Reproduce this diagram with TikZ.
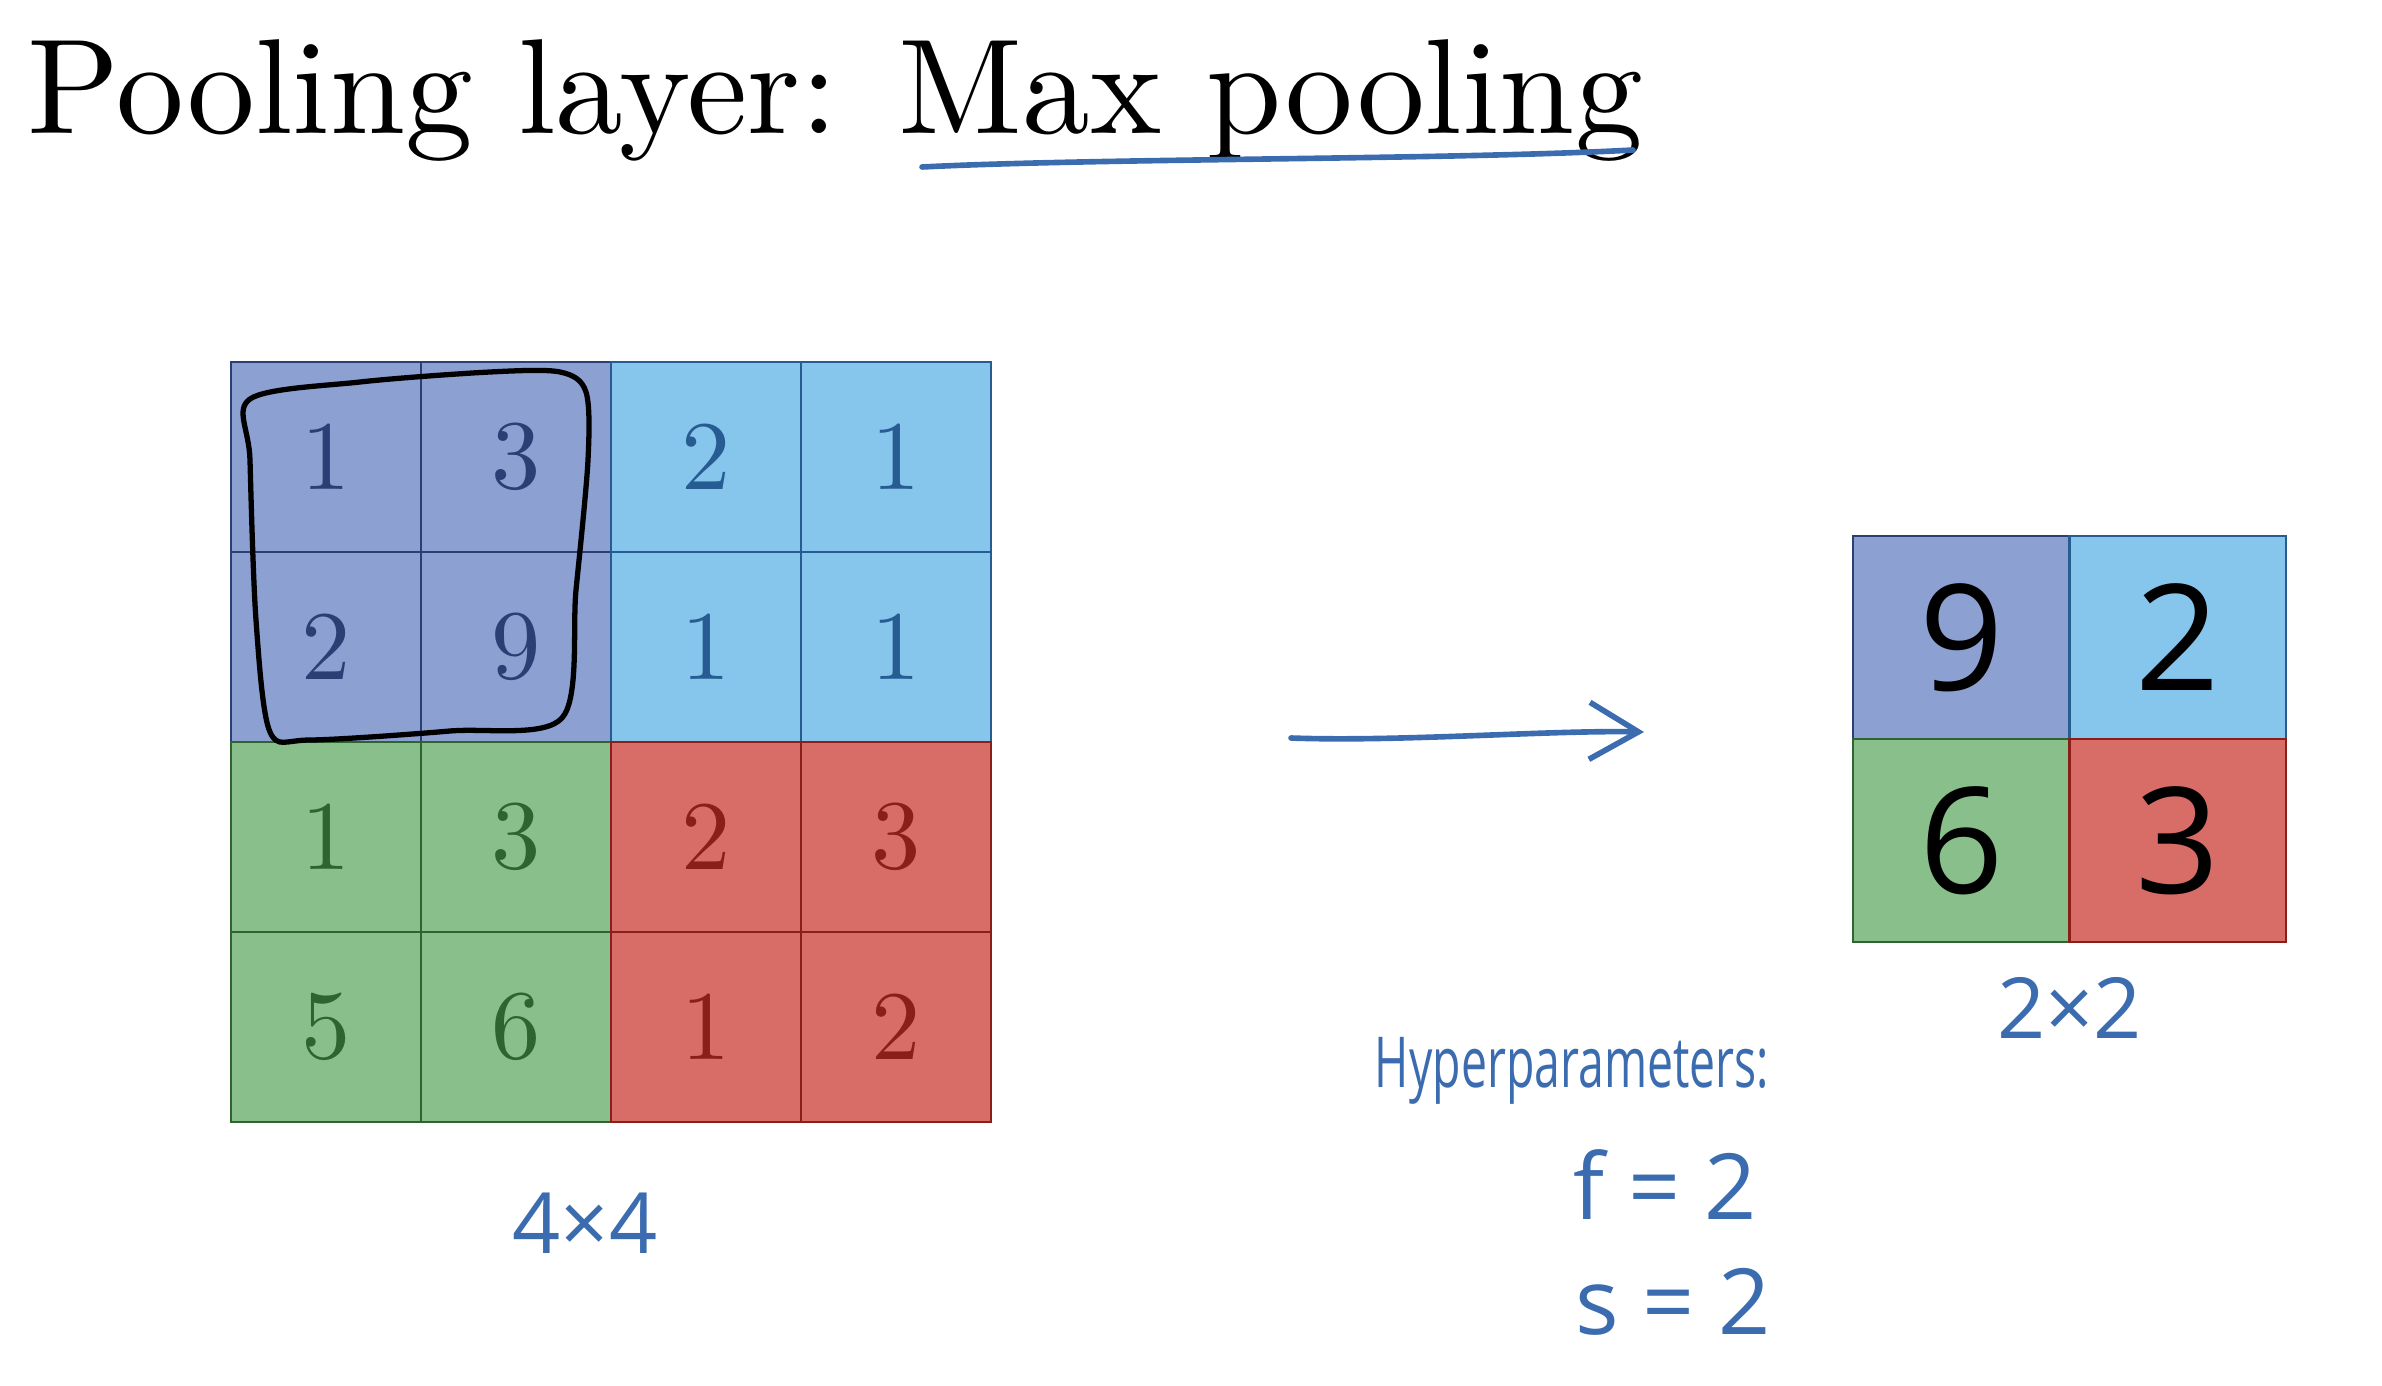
\documentclass[tikz,border=0pt]{standalone}
\usepackage{fontspec}
\newfontfamily\handfont{Open Sans}
\newfontfamily\romanten{lmroman10-regular.otf}
\usetikzlibrary{arrows.meta, positioning}
\definecolor{xPurple}{RGB}{140,160,210}
\definecolor{xSky}{RGB}{134,197,236}
\definecolor{xGreen}{RGB}{136,191,138}
\definecolor{xRed}{RGB}{216,108,102}
\definecolor{dPurple}{RGB}{44,63,117}
\definecolor{dSky}{RGB}{38,92,145}
\definecolor{dGreen}{RGB}{46,100,46}
\definecolor{dRed}{RGB}{140,30,26}
\definecolor{xInk}{RGB}{60,108,176}
\tikzset{
  bigcell/.style={draw, minimum width=1.9cm, minimum height=1.9cm, inner sep=0pt, outer sep=0pt,
                  line width=0.6pt, font=\romanten\fontsize{28}{28}\selectfont},
  smallcell/.style={draw, minimum width=2.165cm, minimum height=2.03cm, inner sep=0pt, outer sep=0pt,
                  line width=0.6pt, font=\handfont\fontsize{42}{42}\selectfont},
  hand/.style={text=xInk, font=\handfont\fontsize{24}{24}\selectfont, inner sep=0pt},
  pen/.style={xInk, line width=1.6pt, line cap=round, line join=round},
  circler/.style={black, line width=1.5pt, line cap=round, line join=round},
}

\begin{document}
\begin{tikzpicture}
    \useasboundingbox (0,0) rectangle (23.82,-13.86);
    \node[anchor=base west, inner sep=0pt, font=\romanten\fontsize{38.5}{38.5}\selectfont] (title) at (0.27,-1.34) {Pooling layer: Max pooling};
    \coordinate (uL) at (9.22,-1.67);
    \coordinate (uR) at (16.33,-1.50);
    \draw[pen] (uL) .. controls (11.0,-1.58) and (14.5,-1.60) .. (uR);
    % 4x4 input
    \foreach \r/\c/\v/\fc in {0/0/1/Purple, 0/1/3/Purple, 0/2/2/Sky, 0/3/1/Sky,
                              1/0/2/Purple, 1/1/9/Purple, 1/2/1/Sky, 1/3/1/Sky,
                              2/0/1/Green, 2/1/3/Green, 2/2/2/Red, 2/3/3/Red,
                              3/0/5/Green, 3/1/6/Green, 3/2/1/Red, 3/3/2/Red}
      \node[bigcell, fill=x\fc, draw=d\fc, text=d\fc] (b\r\c) at ({3.26+1.9*\c},{-4.57-1.9*\r}) {\v};
    \draw[circler] plot[smooth cycle, tension=0.5] coordinates {(2.50,-3.99) (3.6,-3.82) (4.9,-3.72) (5.60,-3.72)
        (5.86,-3.92) (5.88,-4.60) (5.76,-5.90) (5.62,-7.18) (4.5,-7.31) (3.1,-7.40) (2.70,-7.32) (2.56,-6.2) (2.50,-4.6)};
    \node[hand] (dimA) at (5.85,-12.23) {4×4};
    % 2x2 output
    \foreach \r/\c/\v/\fc in {0/0/9/Purple, 0/1/2/Sky, 1/0/6/Green, 1/1/3/Red}
      \node[smallcell, fill=x\fc, draw=d\fc] (s\r\c) at ({19.6125+2.165*\c},{-6.375-2.03*\r}) {\v};
    \node[hand, below=3.5mm of s10.south east] (dimB) {2×2};
    % arrow
    \coordinate (arrS) at (12.91,-7.38);
    \coordinate (arrE) at (16.44,-7.32);
    \draw[pen, -{Straight Barb[length=4.9mm, width=5.7mm]}] (arrS) .. controls (14.0,-7.42) and (15.5,-7.30) .. (arrE);
    % hyperparameters
    \node[hand, font=\handfont\fontsize{20}{20}\selectfont] (hyper) at (15.72,-10.71) {\scalebox{0.66}[1]{Hyperparameters:}};
    \node[hand, font=\handfont\fontsize{26}{26}\selectfont] (fval) at (16.65,-11.85) {f = 2};
    \node[hand, font=\handfont\fontsize{26}{26}\selectfont] (sval) at (16.73,-13.02) {s = 2};
\end{tikzpicture}
\end{document}
